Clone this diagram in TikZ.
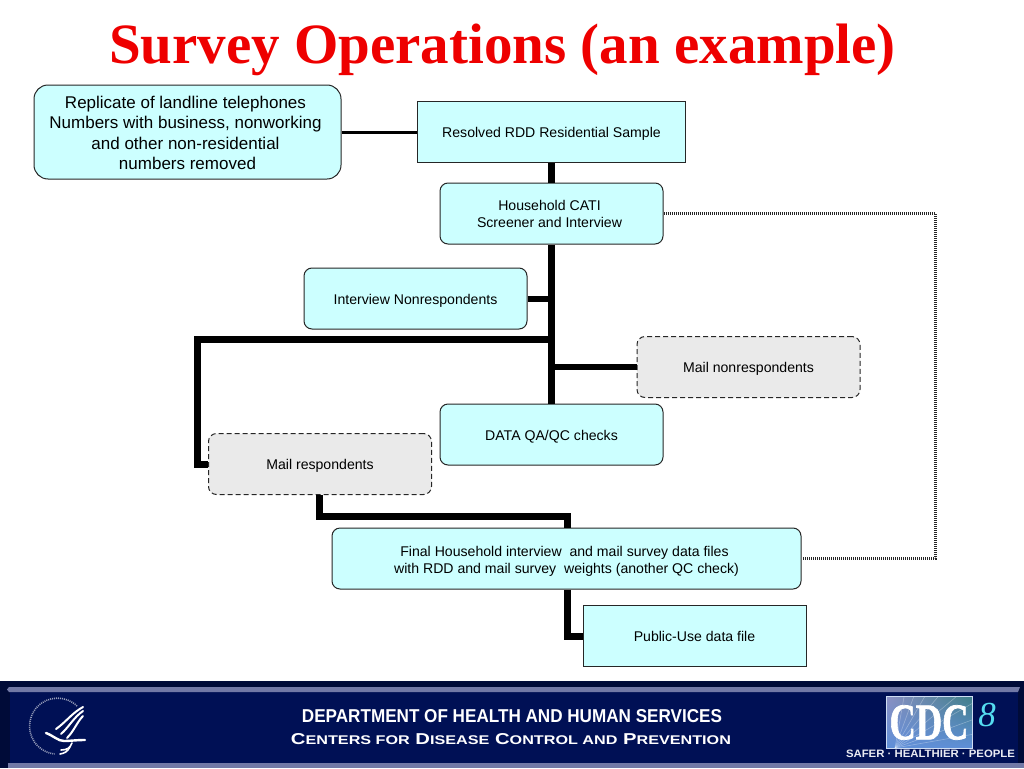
\documentclass[tikz,border=0pt]{standalone}
\usepackage{fontspec}
\setmainfont{Liberation Sans}
\newfontfamily\titlefont{Liberation Serif}
\newfontfamily\cdcfont[UprightFont=* Bold,FakeBold=1.5]{Liberation Serif}
\usetikzlibrary{positioning}
\usetikzlibrary{shadings}
\definecolor{boxcyan}{HTML}{CCFFFF}
\definecolor{boxgray}{HTML}{EAEAEA}
\definecolor{titlered}{HTML}{EE0000}
\definecolor{footnavy}{HTML}{001055}
\definecolor{footdark}{HTML}{000B38}
\definecolor{footband}{HTML}{7279A6}
\definecolor{cdcpurple}{HTML}{8C90C4}
\definecolor{cdcblue}{HTML}{5F8FD8}
\definecolor{cdcteal}{HTML}{3F7F88}
\definecolor{pagecyan}{HTML}{55DDF0}
\newcommand{\tailgap}{\rule{4pt}{0pt}}
\tikzstyle{txt}=[font=\fontsize{14.1}{17}\selectfont, align=center, inner sep=0pt]
\tikzstyle{low}=[execute at begin node={\rule{0pt}{14pt}}]
\tikzstyle{rnd}=[txt, draw=black!85, fill=boxcyan, rounded corners=8pt, line width=1pt, minimum width=223pt, minimum height=61pt]
\tikzstyle{sq}=[txt, draw=black!85, fill=boxcyan, line width=1pt, minimum width=223pt, minimum height=61pt]
\tikzstyle{mail}=[txt, draw=black!85, fill=boxgray, rounded corners=8pt, line width=1pt, dash pattern=on 5pt off 3pt, minimum width=223pt, minimum height=61pt]
\tikzstyle{ln}=[draw, line width=7pt, line join=miter]
\tikzstyle{dots}=[draw=black!85, line width=3pt, dash pattern=on 1pt off 1pt]
\tikzstyle{foot}=[text=white, inner sep=0pt]
\tikzstyle{wing}=[draw=white, line width=2pt, line cap=round]
\begin{document}
\begin{tikzpicture}[x=1pt,y=-1pt]
      \useasboundingbox (0,0) rectangle (1024,768);
      \node [inner sep=0pt, text=titlered] (title) at (502.5,49.5) {\titlefont\bfseries\fontsize{57}{60}\selectfont Survey Operations (an example)};
      % boxes
      \node [rnd, rounded corners=14pt, minimum width=307pt, minimum height=94pt, font=\fontsize{17}{20.4}\selectfont] (repl) at (187.5,132) {\rule{0pt}{14pt}Replicate of landline telephones\tailgap\\Numbers with business, nonworking\tailgap\\and other non-residential\tailgap\\numbers removed};
      \node [sq, low, minimum width=268pt] (res) at (551.5,132) {Resolved RDD Residential Sample};
      \node [rnd] (cati) at (551.5,213.5) {Household CATI\tailgap\\Screener and Interview\tailgap};
      \node [rnd, low] (nonresp) at (415.5,298.5) {Interview Nonrespondents};
      \node [mail, low] (mailnon) at (748.5,367) {Mail nonrespondents};
      \node [rnd, low] (qa) at (551.5,434.5) {DATA QA/QC checks};
      \node [mail, low] (mailresp) at (320,464) {Mail respondents};
      \node [rnd, minimum width=469pt] (final) at (566.5,558.5) {\rule{0pt}{16pt}Final Household interview\ \ and mail survey data files\tailgap\\with RDD and mail survey\ \ weights (another QC check)};
      \node [sq] (pub) at (694.5,636) {Public-Use data file};
      % corners and joints
      \coordinate (join1) at (551.5,339);
      \coordinate (corner1) at (197,339);
      \coordinate (corner2) at (197,464);
      \coordinate (corner3) at (319,516);
      \coordinate (corner4) at (567,516);
      \coordinate (corner5) at (567,636);
      \coordinate (corner6) at (935,213.5);
      \coordinate (corner7) at (935,558.5);
      % connectors
      \path [draw, line width=3pt] (repl.east) -- (res.west);
      \path [ln] (res) -- (cati);
      \path [ln] (cati) -- (qa);
      \path [ln, line width=6pt] (nonresp.east) -- (nonresp.east -| cati);
      \path [ln, line width=6pt] (mailnon.west) -- (mailnon.west -| cati);
      \path [ln] (join1) -- (corner1) -- (corner2) -- (mailresp.west);
      \path [ln] (mailresp.south -| corner3) -- (corner3) -- (corner4) -- (final.north -| corner4);
      \path [ln] (final.south -| corner5) -- (corner5) -- (pub.west);
      \path [dots] (cati.east) -- (corner6) -- (corner7) -- (final.east);
      % footer
      \fill [footnavy] (0,681) rectangle (1024,768);
      \fill [footdark] (0,681) rectangle (1024,687);
      \fill [footdark] (0,681) rectangle (10,768);
      \fill [footdark] (1018,681) rectangle (1024,768);
      \fill [footband] (7,689.5) -- (9,687) -- (1020,687) -- (1018,692) -- (9,692) -- cycle;
      \fill [footband] (8,763) rectangle (1024,768);
      % logo
      \draw [white!60!footnavy, line width=1.6pt, dash pattern=on 1pt off 1pt] (77,706) arc (-46:-264:28);
      \path [wing] (83,707) .. controls (72,713) and (66,722) .. (56,729);
      \path [wing] (83,711) .. controls (74,717) and (69,727) .. (61,734);
      \path [wing] (83,716) .. controls (77,722) and (74,731) .. (67,738);
      \path [wing, line width=2.4pt] (46,733) .. controls (54,736) and (58,741) .. (64,741) .. controls (70,741) and (76,740) .. (85,740);
      \path [wing, line width=1.6pt] (72,743) .. controls (70,748) and (67,750) .. (61,750);
      \path [wing, line width=1.6pt] (70,747) .. controls (67,752) and (65,753) .. (60,754);
      % footer texts
      \node [foot] (dept) at (512,716.5) {\resizebox{420pt}{13pt}{\bfseries DEPARTMENT OF HEALTH AND HUMAN SERVICES}};
      \node [foot] (ctrs) at (511,739) {\resizebox{440pt}{11pt}{\bfseries C\scalebox{.8}{ENTERS FOR} D\scalebox{.8}{ISEASE} C\scalebox{.8}{ONTROL AND} P\scalebox{.8}{REVENTION}}};
      \node [foot, text=white!85!footband] (safer) at (930.5,754) {\resizebox{169pt}{7.5pt}{\bfseries SAFER · HEALTHIER · PEOPLE}};
      \shade [upper left=cdcpurple, upper right=cdcteal, lower left=cdcblue, lower right=cdcblue] (886,696) rectangle (972,748);
      \begin{scope}
        \clip (886,696) rectangle (972,748);
        \foreach \a in {10,20,...,80} {
          \draw [white, opacity=.3, line width=.6pt] (895,748) -- ++(\a:100pt);
        }
      \end{scope}
      \draw [white!70!cdcblue, line width=.8pt] (886,696) rectangle (972,748);
      \node [foot] (cdc) at (929,722.5) {\resizebox{79pt}{34pt}{\cdcfont CDC}};
      \node [foot, text=pagecyan] (pgnum) at (987,715) {\titlefont\itshape\fontsize{35}{36}\selectfont 8};
\end{tikzpicture}
\end{document}
